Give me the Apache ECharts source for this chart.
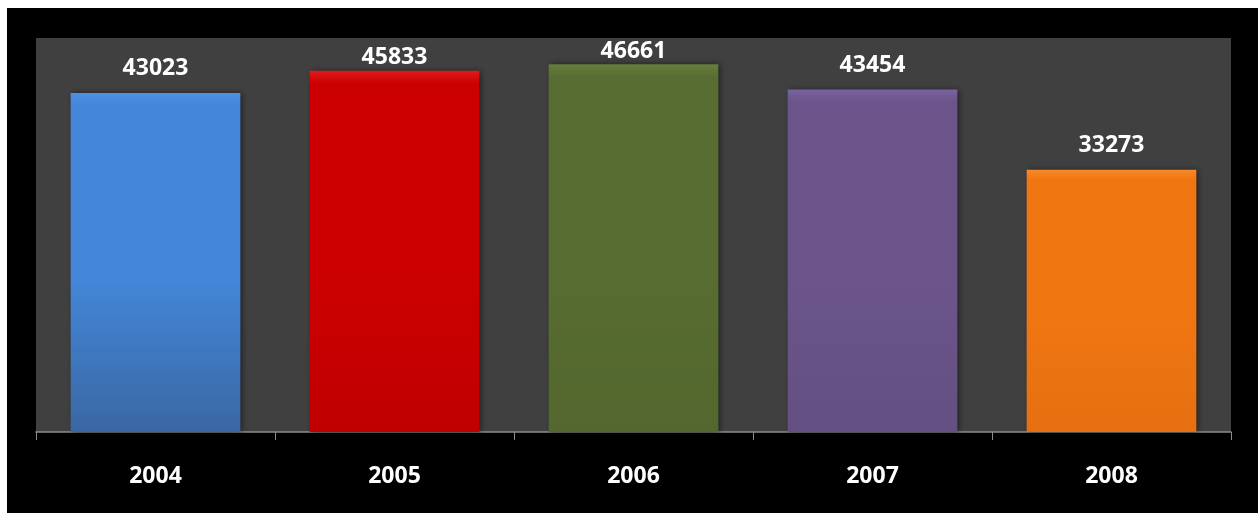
<!DOCTYPE html>
<html>
<head>
<meta charset="utf-8">
<script src="https://cdn.jsdelivr.net/npm/echarts@6/dist/echarts.min.js"></script>
<style>
html,body{margin:0;padding:0;background:#fff;}
#c{width:1258px;height:513px;}
</style>
</head>
<body>
<div id="c"></div>
<script>
var years = ['2004', '2005', '2006', '2007', '2008'];
var values = [43023, 45833, 46661, 43454, 33273];
var colorsTop = ['#4f90e2', '#e01a1a', '#667d3c', '#7862a0', '#f88a2a'];
var colorsBase = ['#4486d8', '#cc0000', '#586d31', '#6b558a', '#f07612'];
var colorsBottom = ['#3a67a3', '#c00000', '#53672e', '#644f82', '#e66f10'];

var chart = echarts.init(document.getElementById('c'), null, {renderer: 'canvas'});
var data = values.map(function (v, i) {
  return {
    value: v,
    label: {distance: v > 45000 ? 1.5 : 13},
    itemStyle: {
      color: new echarts.graphic.LinearGradient(0, 0, 0, 1, [
        {offset: 0, color: colorsTop[i]},
        {offset: 0.035, color: colorsBase[i]},
        {offset: 0.55, color: colorsBase[i]},
        {offset: 1, color: colorsBottom[i]}
      ]),
      shadowColor: 'rgba(0,0,0,0.5)',
      shadowBlur: 6,
      shadowOffsetX: 2,
      shadowOffsetY: 0
    }
  };
});

chart.setOption({
  backgroundColor: '#ffffff',
  animation: false,
  graphic: [{
    type: 'rect',
    z: -10,
    shape: {x: 7, y: 8, width: 1251, height: 505},
    style: {fill: '#000000'}
  }],
  grid: {
    left: 36, right: 27, top: 38, bottom: 81,
    show: true, backgroundColor: '#404040', borderWidth: 0
  },
  xAxis: {
    type: 'category',
    data: years,
    axisLine: {lineStyle: {color: '#8c8c8c', width: 1.5}},
    axisTick: {show: true, length: 8, lineStyle: {color: '#8c8c8c'}},
    axisLabel: {
      color: '#ffffff', fontFamily: 'Open Sans', fontWeight: 'bold',
      fontSize: 23, margin: 33
    }
  },
  yAxis: {
    type: 'value', min: 0, max: 50000, show: false,
    splitLine: {show: false}
  },
  series: [{
    type: 'bar',
    data: data,
    barWidth: '71%',
    label: {
      show: true, position: 'top',
      color: '#ffffff', fontFamily: 'Open Sans', fontWeight: 'bold', fontSize: 23
    }
  }]
});
</script>
</body>
</html>
